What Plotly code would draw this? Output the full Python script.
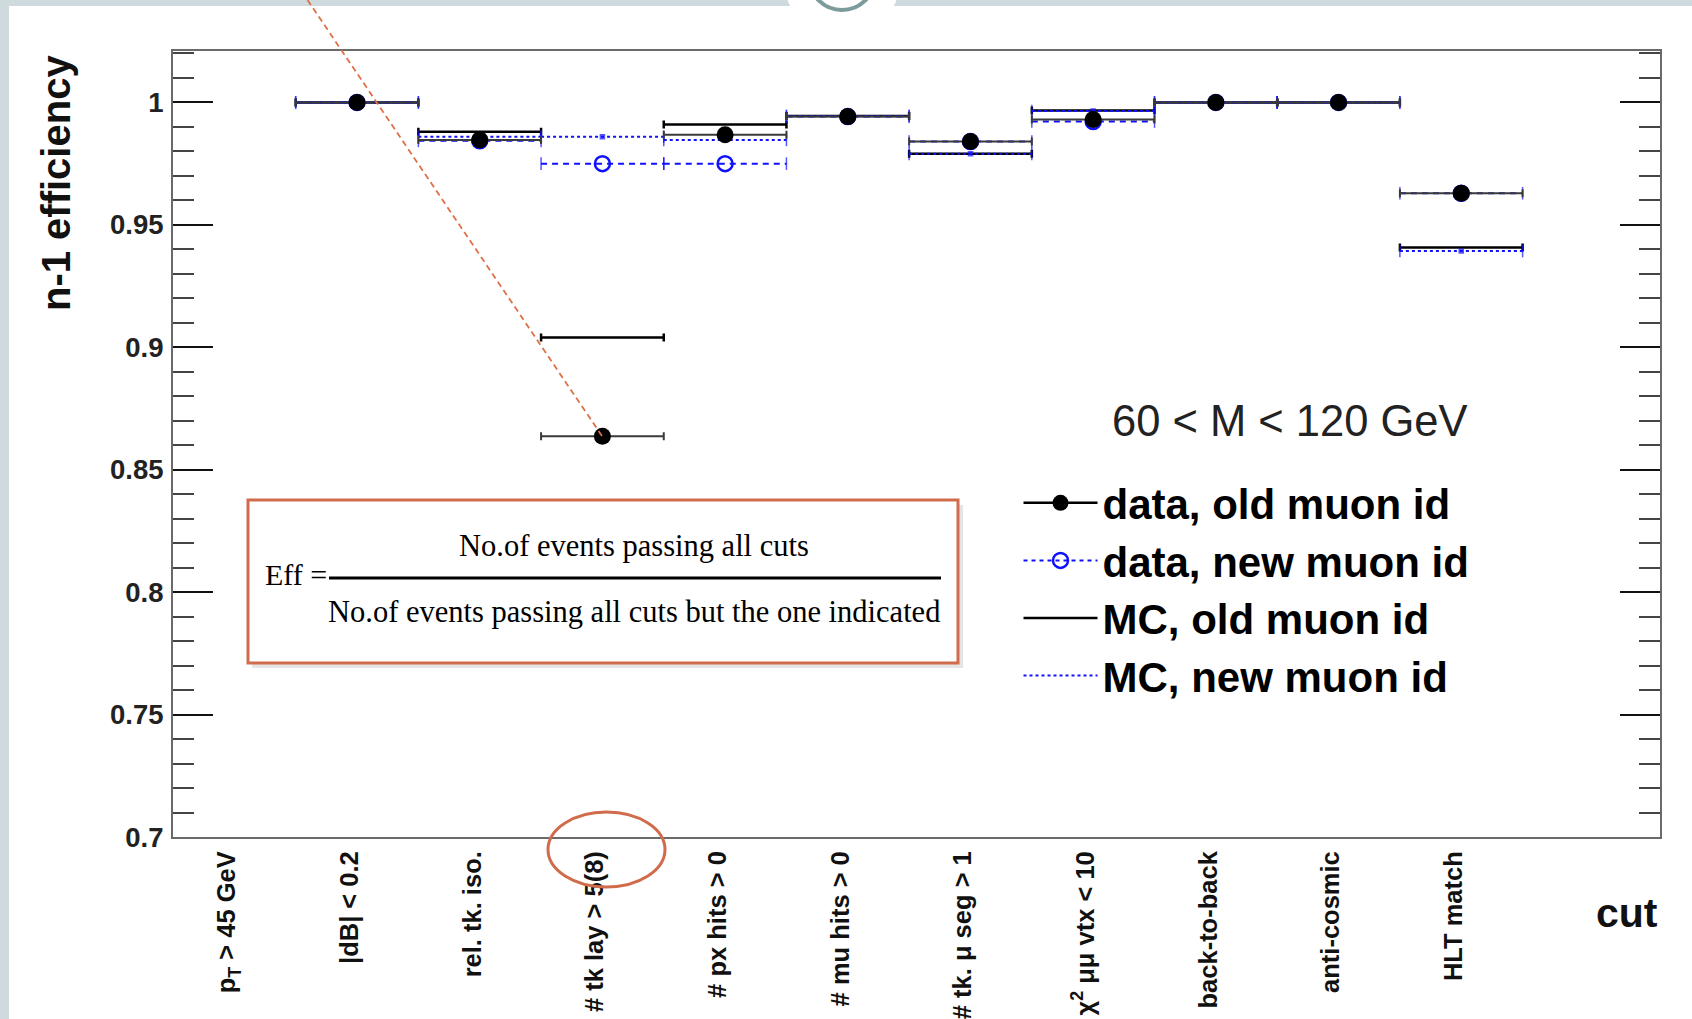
import plotly.graph_objects as go

# ---------------- data ----------------
cuts = ["p<sub>T</sub> &gt; 45 GeV", "|dB| &lt; 0.2", "rel. tk. iso.", "# tk lay &gt; 5(8)",
        "# px hits &gt; 0", "# mu hits &gt; 0", "# tk. μ seg &gt; 1",
        "χ<sup>2</sup> μμ vtx &lt; 10", "back-to-back", "anti-cosmic", "HLT match"]
data_old = [None, 1.000, 0.9847, 0.8637, 0.9868, 0.9942, 0.9840, 0.9930, 1.000, 1.000, 0.9629]
data_new = [None, 1.000, 0.9843, 0.9750, 0.9750, 0.9942, 0.9840, 0.9922, 1.000, 1.000, 0.9629]
mc_old = [None, 1.000, 0.9880, 0.9040, 0.9910, 0.9945, 0.9790, 0.9967, 1.000, 1.000, 0.9408]
mc_new = [None, 1.000, 0.9860, 0.9860, 0.9847, 0.9945, 0.9790, 0.9965, 1.000, 1.000, 0.9393]
ytick_vals = [0.7, 0.75, 0.8, 0.85, 0.9, 0.95, 1.0]
ytick_text = ["0.7", "0.75", "0.8", "0.85", "0.9", "0.95", "1"]
half_bin = 0.5

SANS = "Liberation Sans, Arial, Helvetica, sans-serif"
SERIF = "Liberation Serif, Times New Roman, serif"
BLUE = "#1010ff"
RED = "rgb(208,108,76)"


def isolated(vals):
    xs, ys, ex = [], [], []
    for i, v in enumerate(vals):
        if v is None:
            continue
        xs += [i, None]
        ys += [v, None]
        ex += [half_bin, None]
    return xs, ys, ex


def segments(vals, center_symbol, center_size):
    xs, ys, sym, size = [], [], [], []
    for i, v in enumerate(vals):
        if v is None:
            continue
        xs += [i - half_bin, i, i + half_bin, None]
        ys += [v, v, v, None]
        sym += ["line-ns", center_symbol, "line-ns", "line-ns"]
        size += [9, center_size, 9, 0]
    return xs, ys, sym, size


fig = go.Figure()

# MC, old muon id : black solid bars
x, y, ex = isolated(mc_old)
fig.add_trace(go.Scatter(
    x=x, y=y, mode="lines", name="MC, old muon id", legendrank=3,
    line=dict(color="black", width=2.5),
    error_x=dict(type="data", array=ex, symmetric=True, color="black", thickness=2.5, width=4),
))

# MC, new muon id : blue dotted bars
x, y, sym, size = segments(mc_new, "square", 4)
fig.add_trace(go.Scatter(
    x=x, y=y, mode="lines+markers", showlegend=False,
    line=dict(color=BLUE, width=2, dash="3px,3px"),
    marker=dict(symbol=sym, size=size, color=BLUE, line=dict(color=BLUE, width=1.5)),
))

# data, new muon id : blue dashed bars
x, y, sym, size = segments(data_new, "line-ns", 0)
fig.add_trace(go.Scatter(
    x=x, y=y, mode="lines+markers", showlegend=False,
    line=dict(color=BLUE, width=2, dash="6px,5px"),
    marker=dict(symbol=sym, size=size, color=BLUE, line=dict(color=BLUE, width=1.5)),
))

# data, new muon id : open circles
x, y, ex = isolated(data_new)
fig.add_trace(go.Scatter(
    x=x, y=y, mode="lines+markers", name="data, new muon id", legendrank=2,
    line=dict(color=BLUE, width=2, dash="4px,4px"),
    marker=dict(symbol="circle-open", size=15, color=BLUE, line=dict(color=BLUE, width=2.5)),
))

# data, old muon id : black filled circles
x, y, ex = isolated(data_old)
fig.add_trace(go.Scatter(
    x=x, y=y, mode="lines+markers", name="data, old muon id", legendrank=1,
    line=dict(color="black", width=2.5),
    marker=dict(symbol="circle", size=17, color="black"),
    error_x=dict(type="data", array=ex, symmetric=True, color="#3a3a3a", thickness=2, width=4),
))

# MC, new muon id : legend entry
x, y, ex = isolated(mc_new)
fig.add_trace(go.Scatter(
    x=x, y=y, mode="lines", name="MC, new muon id", legendrank=4,
    line=dict(color=BLUE, width=2, dash="3px,3px"),
))

# ---------------- decorations ----------------
L, R, T, B = 173, 1660, 51, 837
W, H = R - L, B - T


def px(xp):
    return (xp - L) / W


def py(yp):
    return (B - yp) / H


shapes = [
    # slide background strips
    dict(type="rect", xref="paper", yref="paper", x0=px(-5), x1=px(1700), y0=py(6), y1=py(-5),
         fillcolor="#cfdadf", line=dict(width=0), layer="above"),
    dict(type="rect", xref="paper", yref="paper", x0=px(-5), x1=px(9), y0=py(1025), y1=py(-5),
         fillcolor="#cfdadf", line=dict(width=0), layer="above"),
    dict(type="circle", xref="paper", yref="paper", x0=px(784), x1=px(900), y0=py(38), y1=py(-78),
         fillcolor="white", line=dict(width=0), layer="above"),
    dict(type="circle", xref="paper", yref="paper", x0=px(809), x1=px(875), y0=py(10), y1=py(-56),
         fillcolor="rgba(0,0,0,0)", line=dict(color="rgb(125,155,155)", width=4), layer="above"),
    # formula box shadow + box
    dict(type="rect", xref="paper", yref="paper", x0=px(252), x1=px(963), y0=py(668), y1=py(505),
         fillcolor="rgba(0,0,0,0.10)", line=dict(width=0), layer="above"),
    dict(type="rect", xref="paper", yref="paper", x0=px(248), x1=px(958), y0=py(663), y1=py(500),
         fillcolor="white", line=dict(color=RED, width=3), layer="above"),
    dict(type="line", xref="paper", yref="paper", x0=px(329), x1=px(941), y0=py(578), y1=py(578),
         line=dict(color="black", width=3), layer="above"),
    # pointer line and circle
    dict(type="line", xref="paper", yref="paper", x0=px(307.5), y0=py(0), x1=px(602), y1=py(436),
         line=dict(color="rgb(222,112,72)", width=1.8, dash="6px,4px"), layer="above"),
    dict(type="circle", xref="paper", yref="paper", x0=px(548), x1=px(665), y0=py(887), y1=py(812),
         line=dict(color=RED, width=3), layer="above"),
]

annotations = [
    dict(text="n-1 efficiency", xref="paper", yref="paper", x=px(56), y=py(53),
         xanchor="center", yanchor="top", textangle=-90, showarrow=False,
         font=dict(family=SANS, size=40, color="#111", weight="bold")),
    dict(text="cut", xref="paper", yref="paper", x=px(1660), y=py(913),
         xanchor="right", yanchor="middle", showarrow=False,
         font=dict(family=SANS, size=41, color="#111", weight="bold")),
    dict(text="60 &lt; M &lt; 120 GeV", xref="paper", yref="paper", x=px(1110), y=py(421),
         xanchor="left", yanchor="middle", showarrow=False,
         font=dict(family=SANS, size=43.5, color="#222")),
    dict(text="Eff =", xref="paper", yref="paper", x=px(263), y=py(574),
         xanchor="left", yanchor="middle", showarrow=False,
         font=dict(family=SERIF, size=30, color="black")),
    dict(text="No.of events passing all cuts", xref="paper", yref="paper", x=px(634), y=py(546),
         xanchor="center", yanchor="middle", showarrow=False,
         font=dict(family=SERIF, size=30.5, color="black")),
    dict(text="No.of events passing all cuts but the one indicated", xref="paper", yref="paper",
         x=px(634), y=py(612), xanchor="center", yanchor="middle", showarrow=False,
         font=dict(family=SERIF, size=30.5, color="black")),
]

fig.update_layout(
    width=1692, height=1019, autosize=False,
    margin=dict(l=L, r=1692 - R, t=T, b=1019 - B, pad=0),
    paper_bgcolor="white", plot_bgcolor="white",
    template="none",
    shapes=shapes, annotations=annotations,
    legend=dict(x=px(1018.5), y=py(469), xanchor="left", yanchor="top",
                font=dict(family=SANS, size=42, color="black", weight="bold"),
                itemwidth=74, bgcolor="rgba(0,0,0,0)", borderwidth=0, tracegroupgap=0),
    xaxis=dict(range=[-0.5, 11.62], tickmode="array",
               tickvals=[i - 0.06 for i in range(len(cuts))], ticktext=cuts,
               tickangle=-90, ticks="", showline=True, mirror=True, linecolor="#6a6a6a",
               linewidth=2, showgrid=False, zeroline=False, automargin=False,
               ticklabelstandoff=2,
               tickfont=dict(family=SANS, size=25.5, color="#111", weight="bold")),
    yaxis=dict(range=[0.7, 1.021], tickmode="array", tickvals=ytick_vals, ticktext=ytick_text,
               ticks="inside", ticklen=40, tickwidth=2, tickcolor="#111",
               showline=True, mirror="ticks", linecolor="#6a6a6a", linewidth=2,
               showgrid=False, zeroline=False, automargin=False, ticklabelstandoff=2,
               minor=dict(tickmode="linear", tick0=0.7, dtick=0.01, ticks="inside",
                          ticklen=21, tickwidth=2, tickcolor="#444", showgrid=False),
               tickfont=dict(family=SANS, size=27.5, color="#222", weight="bold")),
)

fig.write_html("out.html")
